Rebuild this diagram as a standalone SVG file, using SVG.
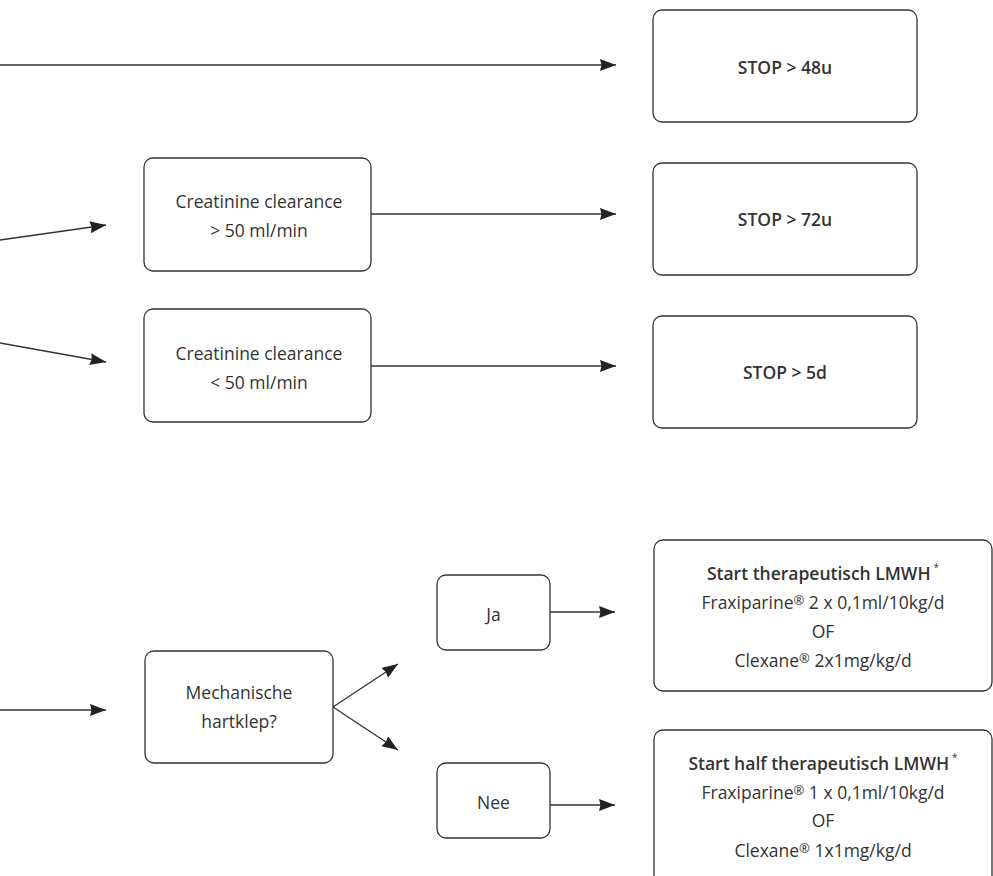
<svg xmlns="http://www.w3.org/2000/svg" width="993" height="876" viewBox="0 0 993 876">
<defs>
<marker id="ah" markerUnits="userSpaceOnUse" markerWidth="17" markerHeight="13" refX="16" refY="6" orient="auto">
<path d="M0,0 L16,6 L0,12 L1.5,6 Z" fill="#222"/>
</marker>
<style>
.box{fill:#fff;stroke:#333;stroke-width:1.3}
.t{font-family:"Open Sans","Noto Sans",sans-serif;font-size:17.5px;fill:#333;text-anchor:middle;dominant-baseline:central}
.b{font-weight:600}
.sup{font-size:10px}
.reg{font-size:13px}
.c{stroke:#333;stroke-width:1.3;fill:none;marker-end:url(#ah)}
</style>
</defs>
<rect width="993" height="876" fill="#fff"/>
<g id="connectors">
<line class="c" x1="0" y1="65" x2="616" y2="65"/>
<line class="c" x1="0" y1="240" x2="106" y2="225"/>
<line class="c" x1="0" y1="343" x2="106" y2="362"/>
<line class="c" x1="371" y1="214" x2="616" y2="214"/>
<line class="c" x1="371" y1="366" x2="616" y2="366"/>
<line class="c" x1="0" y1="710" x2="106" y2="710"/>
<line class="c" x1="333" y1="707" x2="398" y2="664"/>
<line class="c" x1="333" y1="707" x2="398" y2="750"/>
<line class="c" x1="550" y1="612" x2="615" y2="612"/>
<line class="c" x1="550" y1="805" x2="615" y2="805"/>
</g>
<g id="stop48">
<rect class="box" x="653" y="10" width="264" height="112" rx="9"/>
<text class="t b" x="785" y="67">STOP &gt; 48u</text>
</g>
<g id="cc_gt50">
<rect class="box" x="144" y="158" width="227" height="113" rx="9"/>
<text class="t" x="259" y="201">Creatinine clearance</text>
<text class="t" x="259" y="230">&gt; 50 ml/min</text>
</g>
<g id="stop72">
<rect class="box" x="653" y="163" width="264" height="112" rx="9"/>
<text class="t b" x="785" y="219">STOP &gt; 72u</text>
</g>
<g id="cc_lt50">
<rect class="box" x="144" y="309" width="227" height="113" rx="9"/>
<text class="t" x="259" y="353">Creatinine clearance</text>
<text class="t" x="259" y="382">&lt; 50 ml/min</text>
</g>
<g id="stop5d">
<rect class="box" x="653" y="316" width="264" height="112" rx="9"/>
<text class="t b" x="785" y="372">STOP &gt; 5d</text>
</g>
<g id="mech">
<rect class="box" x="145" y="651" width="188" height="112" rx="9"/>
<text class="t" x="239" y="692">Mechanische</text>
<text class="t" x="239" y="721">hartklep?</text>
</g>
<g id="ja">
<rect class="box" x="437" y="575" width="113" height="75" rx="9"/>
<text class="t" x="493.5" y="614">Ja</text>
</g>
<g id="nee">
<rect class="box" x="437" y="763" width="113" height="75" rx="9"/>
<text class="t" x="493.5" y="802">Nee</text>
</g>
<g id="lmwh_full">
<rect class="box" x="654" y="540" width="338" height="151" rx="9"/>
<text class="t" x="823" y="573"><tspan class="b">Start therapeutisch LMWH</tspan><tspan class="sup" dx="3" dy="-6">*</tspan></text>
<text class="t" x="823" y="602">Fraxiparine<tspan class="reg" dy="-2">®</tspan><tspan dy="2"> 2 x 0,1ml/10kg/d</tspan></text>
<text class="t" x="823" y="631">OF</text>
<text class="t" x="823" y="660">Clexane<tspan class="reg" dy="-2">®</tspan><tspan dy="2"> 2x1mg/kg/d</tspan></text>
</g>
<g id="lmwh_half">
<rect class="box" x="654" y="730" width="338" height="160" rx="9"/>
<text class="t" x="823" y="763"><tspan class="b">Start half therapeutisch LMWH</tspan><tspan class="sup" dx="3" dy="-6">*</tspan></text>
<text class="t" x="823" y="792">Fraxiparine<tspan class="reg" dy="-2">®</tspan><tspan dy="2"> 1 x 0,1ml/10kg/d</tspan></text>
<text class="t" x="823" y="820">OF</text>
<text class="t" x="823" y="850">Clexane<tspan class="reg" dy="-2">®</tspan><tspan dy="2"> 1x1mg/kg/d</tspan></text>
</g>
</svg>
